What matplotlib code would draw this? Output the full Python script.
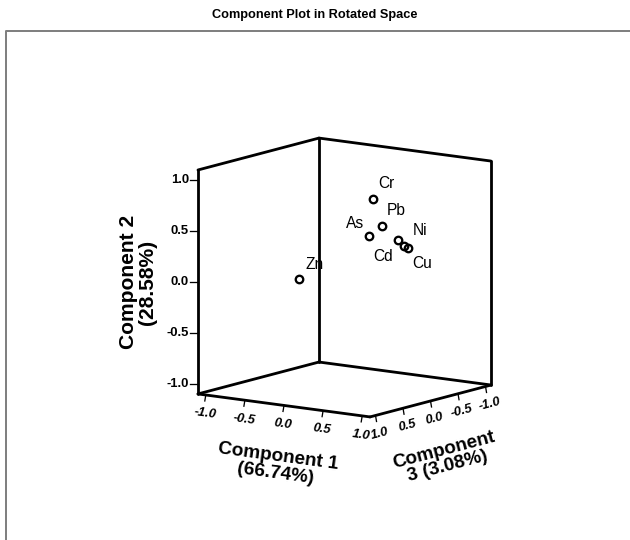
import numpy as np
import matplotlib
matplotlib.use('Agg')
import matplotlib.pyplot as plt
from matplotlib import font_manager

# rotated component loadings
elements = ['Cr', 'Pb', 'As', 'Cd', 'Ni', 'Cu', 'Zn']
comp1 = [0.43, 0.58, 0.45, 0.75, 0.79, 0.85, 0.02]
comp2 = [0.83, 0.59, 0.48, 0.46, 0.40, 0.38, 0.11]
comp3 = [0.10, 0.15, 0.20, 0.10, 0.05, 0.05, 0.85]

tick_values = [-1.0, -0.5, 0.0, 0.5, 1.0]
title = 'Component Plot in Rotated Space'
c1_title = 'Component 1\n(66.74%)'
c2_title = 'Component 2\n(28.58%)'
c3_title = 'Component\n3 (3.08%)'

# where each element name sits relative to its marker (px right, px down)
label_offsets = {'Cr': (14, -15), 'Pb': (15, -15), 'As': (-14, -13), 'Cd': (-15, 17),
                 'Ni': (17, -15), 'Cu': (14, 15), 'Zn': (15, -14)}

# oblique projection of the cube onto the canvas (pixels, y down)
LIM = 1.1
ORIGIN = np.array([344.5, 277.5])
E1 = np.array([78.2, 10.45])
E2 = np.array([0.0, -101.8])
E3 = np.array([-55.0, 14.5])


def proj(c1, c2, c3):
    c1, c2, c3 = np.broadcast_arrays(np.asarray(c1, float), np.asarray(c2, float), np.asarray(c3, float))
    pts = ORIGIN + c1[..., None] * E1 + c2[..., None] * E2 + c3[..., None] * E3
    return pts[..., 0], pts[..., 1]


available = {f.name for f in font_manager.fontManager.ttflist}
narrow = 'Liberation Sans Narrow' if 'Liberation Sans Narrow' in available else 'Liberation Sans'
plt.rcParams['font.family'] = ['Liberation Sans', 'DejaVu Sans']

W, H = 630, 540
fig = plt.figure(figsize=(W / 72, H / 72), dpi=72)
ax = fig.add_axes([0, 0, 1, 1])
ax.set_xlim(0, W)
ax.set_ylim(H, 0)
ax.axis('off')

# outer chart frame
ax.plot([6, 6, W], [H, 31, 31], color='#808080', lw=2, solid_capstyle='butt')

fig.text(0.5, 1 - 15 / H, title, ha='center', va='center', fontsize=12.8,
         fontweight='bold', family=narrow)

# back walls and floor of the cube
lo, hi = -LIM, LIM
edges = [
    ((lo, lo, hi), (lo, hi, hi)),
    ((lo, lo, lo), (lo, hi, lo)),
    ((hi, lo, lo), (hi, hi, lo)),
    ((lo, hi, hi), (lo, hi, lo)),
    ((lo, hi, lo), (hi, hi, lo)),
    ((lo, lo, hi), (lo, lo, lo)),
    ((lo, lo, lo), (hi, lo, lo)),
    ((lo, lo, hi), (hi, lo, hi)),
    ((hi, lo, hi), (hi, lo, lo)),
]
for a, b in edges:
    xs, ys = proj([a[0], b[0]], [a[1], b[1]], [a[2], b[2]])
    ax.plot(xs, ys, color='black', lw=2.8, solid_capstyle='round', zorder=3)

tick_fmt = lambda v: f'{v:.1f}'

# component 2 ticks on the left vertical edge
for v in tick_values:
    x, y = proj(lo, v, hi)
    ax.plot([x - 8, x], [y, y], color='black', lw=1.3, zorder=3)
    ax.text(x - 9, y, tick_fmt(v), ha='right', va='center', fontsize=13,
            fontweight='bold', family=narrow)

# component 1 ticks along the front-left floor edge
for v in tick_values:
    x, y = proj(v, lo, hi)
    ax.plot([x, x - 1], [y, y + 6], color='black', lw=1.3, zorder=3)
    ax.text(x - 1, y + 19, tick_fmt(v), ha='center', va='center', fontsize=13,
            fontweight='bold', family=narrow, rotation=-7.6, style='italic')

# component 3 ticks along the front-right floor edge
for v in tick_values:
    x, y = proj(hi, lo, v)
    ax.plot([x, x + 1], [y, y + 6], color='black', lw=1.3, zorder=3)
    ax.text(x + 4, y + 18, tick_fmt(v), ha='center', va='center', fontsize=13,
            fontweight='bold', family=narrow, rotation=14.8, style='italic')

ax.text(138, 282, c2_title, ha='center', va='center', rotation=90, fontsize=21,
        fontweight='bold', linespacing=0.95, multialignment='center')
ax.text(277, 465, c1_title, ha='center', va='center', rotation=-7.6, fontsize=19,
        fontweight='bold', linespacing=1.0, multialignment='center',
        rotation_mode='anchor')
ax.text(446, 458, c3_title, ha='center', va='center', rotation=14.8, fontsize=19,
        fontweight='bold', linespacing=0.95, multialignment='center',
        rotation_mode='anchor')

# loadings
px, py = proj(comp1, comp2, comp3)
ax.plot(px, py, 'o', ms=7.5, mfc='none', mec='black', mew=2.3, zorder=4)
for name, x, y in zip(elements, px, py):
    dx, dy = label_offsets[name]
    ax.text(x + dx, y + dy, name, ha='center', va='center', fontsize=15.5, zorder=2)

fig.savefig('out.png', dpi=72, facecolor='white')
